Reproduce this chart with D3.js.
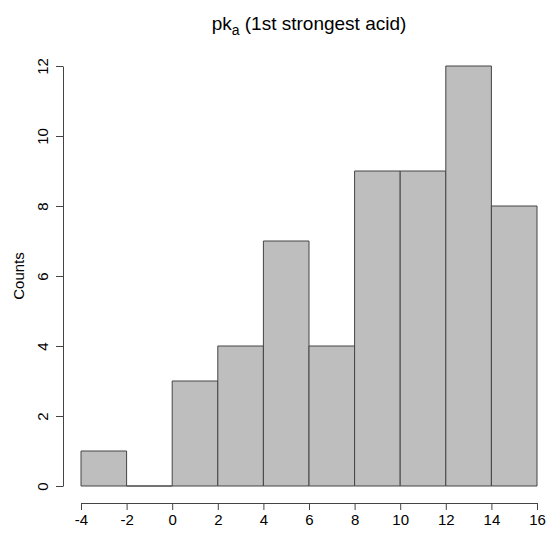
<!DOCTYPE html>
<html>
<head>
<meta charset="utf-8">
<script src="https://cdn.jsdelivr.net/npm/d3@7"></script>
<style>
  body { margin: 0; background: #fff; }
  svg { font-family: "Liberation Sans", Arial, sans-serif; }
</style>
</head>
<body>
<div id="chart"></div>
<script>
// histogram bins (lower edge, upper edge) and counts
const binStarts = [-4, -2, 0, 2, 4, 6, 8, 10, 12, 14];
const binEnds = [-2, 0, 2, 4, 6, 8, 10, 12, 14, 16];
const counts = [1, 0, 3, 4, 7, 4, 9, 9, 12, 8];
const xTicks = [-4, -2, 0, 2, 4, 6, 8, 10, 12, 14, 16];
const yTicks = [0, 2, 4, 6, 8, 10, 12];

const width = 547, height = 536;

const svg = d3.select('#chart').append('svg')
  .attr('width', width)
  .attr('height', height);

const x = d3.scaleLinear().domain([-4, 16]).range([81, 537]);
const y = d3.scaleLinear().domain([0, 12]).range([486, 66]);

// bars as paths so an empty bin still shows its base line
svg.append('g')
  .selectAll('path')
  .data(counts)
  .enter().append('path')
  .attr('d', function(d, i) {
    const x0 = x(binStarts[i]), x1 = x(binEnds[i]);
    return `M${x0},${y(0)}H${x1}V${y(d)}H${x0}Z`;
  })
  .attr('fill', '#bebebe')
  .attr('stroke', '#444')
  .attr('stroke-width', 1);

// plain hyphen minus, like R
const fmt = d => String(d);

// x axis
const xAxis = svg.append('g')
  .attr('transform', 'translate(0,503)')
  .call(d3.axisBottom(x).tickValues(xTicks).tickFormat(fmt).tickSize(7).tickPadding(4).tickSizeOuter(0));

// y axis
const yAxis = svg.append('g')
  .attr('transform', 'translate(63,0)')
  .call(d3.axisLeft(y).tickValues(yTicks).tickFormat(fmt).tickSize(7).tickPadding(4).tickSizeOuter(0));

[xAxis, yAxis].forEach(function(a) {
  a.select('.domain').attr('stroke', '#444');
  a.selectAll('.tick line').attr('stroke', '#444');
  a.selectAll('.tick text')
    .attr('fill', '#000')
    .style('font-size', '15px')
    .style('font-family', '"Liberation Sans", Arial, sans-serif');
});

// rotate y tick labels like R's default
yAxis.selectAll('.tick text')
  .attr('x', null)
  .attr('dy', null)
  .attr('text-anchor', 'middle')
  .attr('transform', 'translate(-21,0) rotate(-90)')
  .attr('y', 0)
  .attr('dominant-baseline', 'central');

// y label
svg.append('text')
  .attr('transform', 'translate(18,' + ((y(0) + y(12)) / 2) + ') rotate(-90)')
  .attr('text-anchor', 'middle')
  .attr('dominant-baseline', 'central')
  .style('font-size', '15px')
  .text('Counts');

// title with subscript
const title = svg.append('text')
  .attr('x', (x(-4) + x(16)) / 2)
  .attr('y', 30)
  .attr('text-anchor', 'middle')
  .style('font-size', '19px');
title.append('tspan').text('pk');
title.append('tspan').attr('dy', 5).style('font-size', '14px').text('a');
title.append('tspan').attr('dy', -5).text(' (1st strongest acid)');
</script>
</body>
</html>
